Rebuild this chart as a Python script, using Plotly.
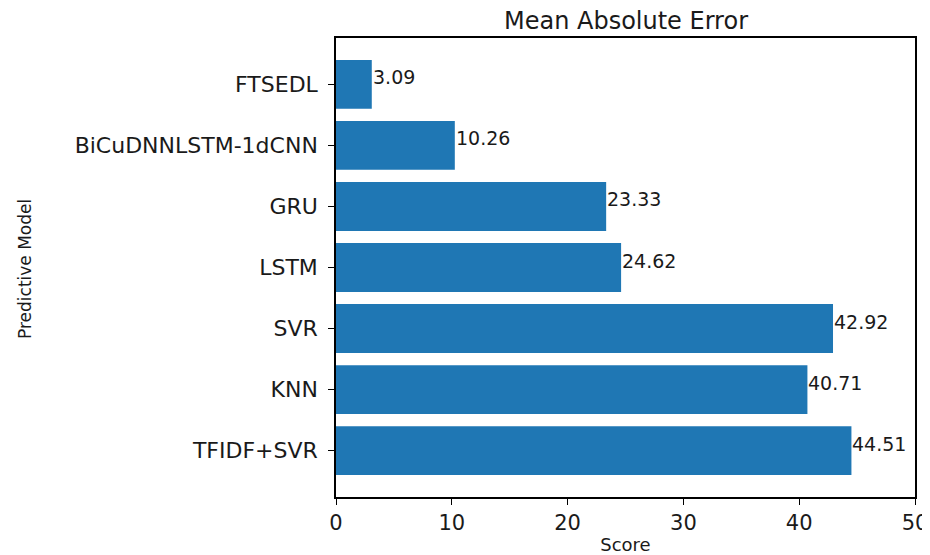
import plotly.graph_objects as go

models = ["TFIDF+SVR", "KNN", "SVR", "LSTM", "GRU", "BiCuDNNLSTM-1dCNN", "FTSEDL"]
mae = [44.51, 40.71, 42.92, 24.62, 23.33, 10.26, 3.09]
x_ticks = [0, 10, 20, 30, 40, 50]

title_text = "Mean Absolute Error"
x_title = "Score"
y_title = "Predictive Model"

FONT = "DejaVu Sans"
BAR_COLOR = "#1f77b4"
TXT = "#1a1a1a"

# page has an 8px body margin, so the figure is drawn 8px smaller and shifted
W, H = 922, 547
L, R, T, B = 328, 15, 30, 58
PW, PH = W - L - R, H - T - B

fig = go.Figure()
fig.add_trace(go.Bar(
    x=mae, y=models, orientation="h",
    marker=dict(color=BAR_COLOR, line=dict(width=0)),
    width=0.8, hoverinfo="x+y",
))

for m, v in zip(models, mae):
    fig.add_annotation(
        x=v, y=m, xref="x", yref="y", text=f"{v:.2f}",
        showarrow=False, xanchor="left", yanchor="middle",
        xshift=-1, yshift=7,
        font=dict(family=FONT, size=19, color=TXT),
    )

fig.add_annotation(
    xref="paper", yref="paper",
    x=(17 - L) / PW, y=(H - B - 261) / PH,
    text=y_title, showarrow=False, textangle=-90,
    xanchor="center", yanchor="middle",
    font=dict(family=FONT, size=17, color=TXT),
)

fig.update_layout(
    width=W, height=H,
    margin=dict(l=L, r=R, t=T, b=B, autoexpand=False),
    paper_bgcolor="white", plot_bgcolor="white",
    showlegend=False,
    title=dict(text=title_text, x=618 / W, xanchor="center", y=1 - 13 / H, yanchor="middle",
               font=dict(family=FONT, size=24, color=TXT)),
    font=dict(family=FONT, color=TXT),
)

fig.update_xaxes(
    range=[0, 50], tickvals=x_ticks, ticktext=[str(t) for t in x_ticks],
    showline=True, linecolor="black", linewidth=1.5, mirror=True,
    ticks="outside", ticklen=6, tickwidth=1.2, tickcolor="black",
    showgrid=False, zeroline=False,
    tickfont=dict(family=FONT, size=21, color=TXT),
    title=dict(text=x_title, font=dict(family=FONT, size=18, color=TXT), standoff=6),
)
fig.update_yaxes(
    type="category", categoryorder="array", categoryarray=models,
    range=[-0.76, 6.76],
    showline=True, linecolor="black", linewidth=1.5, mirror=True,
    ticks="outside", ticklen=6, tickwidth=1.2, tickcolor="black",
    showgrid=False, zeroline=False,
    tickfont=dict(family=FONT, size=22, color=TXT),
    ticklabelstandoff=6,
)

fig.write_html("out.html")
